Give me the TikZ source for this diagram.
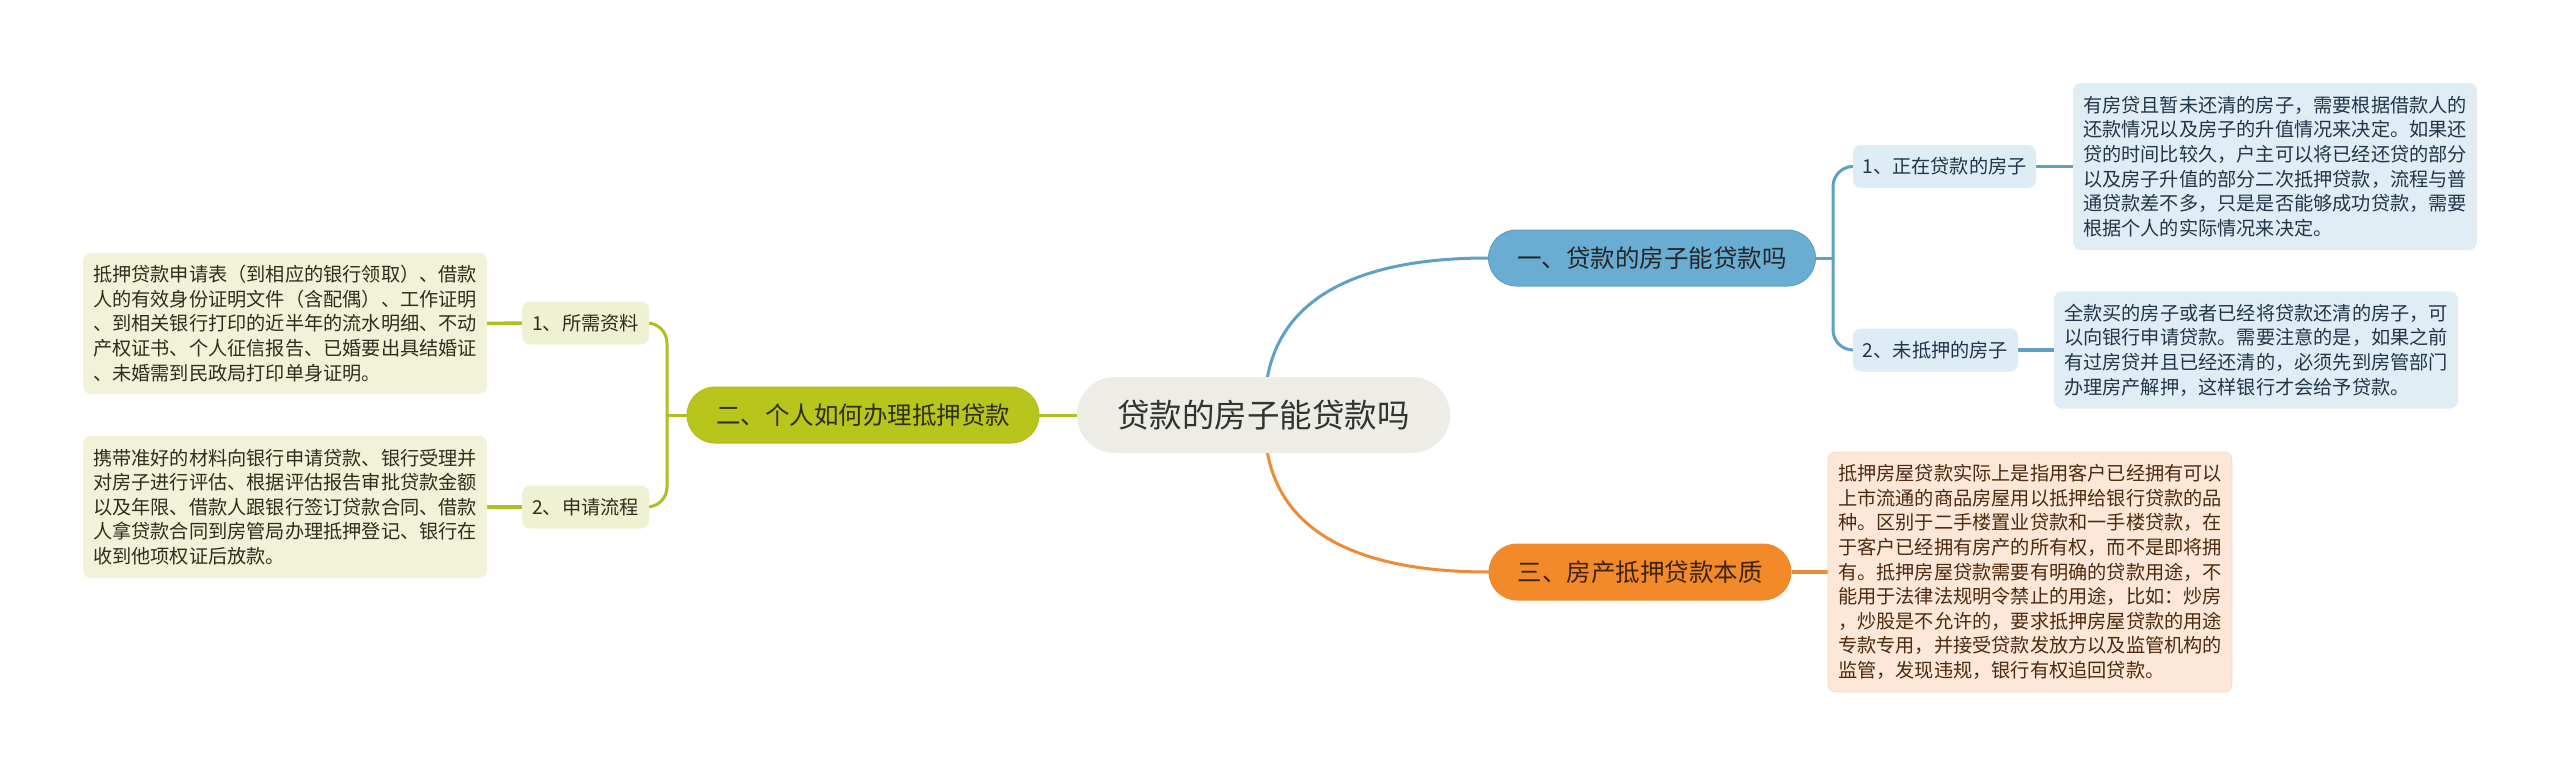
\documentclass[tikz,border=0pt]{standalone}
\usepackage{fontspec}
\setmainfont{Noto Sans CJK SC}
\usetikzlibrary{backgrounds}
\definecolor{cfill}{HTML}{EDEDE5}
\definecolor{ctext}{HTML}{333333}
\definecolor{bfill}{HTML}{6AADD2}
\definecolor{bline}{HTML}{5EA1C7}
\definecolor{bsub}{HTML}{DDECF5}
\definecolor{bleaf}{HTML}{E0EDF5}
\definecolor{btext}{HTML}{22364A}
\definecolor{ofill}{HTML}{B8C51A}
\definecolor{oline}{HTML}{B0BE22}
\definecolor{osub}{HTML}{EFF1D3}
\definecolor{oleaf}{HTML}{F1F2D7}
\definecolor{otext}{HTML}{2E2E1E}
\definecolor{rfill}{HTML}{F28A2A}
\definecolor{rline}{HTML}{EE8B37}
\definecolor{rleaf}{HTML}{FCE7D8}
\definecolor{rtext}{HTML}{4E2A0E}
\begin{document}
\begin{tikzpicture}[x=1pt,y=-1pt,
  box/.style={rectangle, inner sep=0pt, align=center},
  centerbox/.style={box, fill=cfill, rounded corners=38pt, minimum width=373pt, minimum height=76pt, font=\fontsize{32.5}{39}\selectfont, text=ctext},
  branchbox/.style={box, rounded corners=28pt, minimum height=56pt, font=\fontsize{24.5}{30}\selectfont},
  subbox/.style={box, rounded corners=8pt, minimum height=43pt, font=\fontsize{19.2}{24}\selectfont},
  leafbox/.style={rectangle, rounded corners=8pt, inner xsep=10pt, inner ysep=0pt, align=left, minimum width=404pt, font=\fontsize{19.2}{24.6}\selectfont},
  conn/.style={line width=3pt, line cap=round},
  leafconn/.style={line width=3.5pt}
]
\useasboundingbox (0,0) rectangle (2560,776);

% central
\node[centerbox] (c) at (1263.5,415) {贷款的房子能贷款吗};

% branch 1 (blue)
\node[branchbox, fill=bfill, draw=bline, line width=1pt, minimum width=327pt, text=black!85] (b1) at (1652,258) {一、贷款的房子能贷款吗};
\node[subbox, fill=bsub, minimum width=183pt, text=btext] (s1) at (1944.5,166.5) {1、正在贷款的房子};
\node[subbox, fill=bsub, minimum width=165pt, text=btext] (s2) at (1935.5,350) {2、未抵押的房子};
\node[leafbox, fill=bleaf, minimum height=167pt, text=btext] (l1) at (2275,166.5) {有房贷且暂未还清的房子，需要根据借款人的\\还款情况以及房子的升值情况来决定。如果还\\贷的时间比较久，户主可以将已经还贷的部分\\以及房子升值的部分二次抵押贷款，流程与普\\通贷款差不多，只是是否能够成功贷款，需要\\根据个人的实际情况来决定。};
\node[leafbox, fill=bleaf, minimum height=117pt, text=btext] (l2) at (2256,350) {全款买的房子或者已经将贷款还清的房子，可\\以向银行申请贷款。需要注意的是，如果之前\\有过房贷并且已经还清的，必须先到房管部门\\办理房产解押，这样银行才会给予贷款。};

% branch 2 (olive)
\node[branchbox, fill=ofill, draw=oline, line width=1pt, minimum width=352pt, text=otext] (b2) at (863,415) {二、个人如何办理抵押贷款};
\node[subbox, fill=osub, minimum width=127pt, text=otext] (t1) at (585.5,323) {1、所需资料};
\node[subbox, fill=osub, minimum width=127pt, text=otext] (t2) at (585.5,507) {2、申请流程};
\node[leafbox, fill=oleaf, minimum height=141pt, text=otext] (m1) at (285,323.5) {抵押贷款申请表（到相应的银行领取）、借款\\人的有效身份证明文件（含配偶）、工作证明\\、到相关银行打印的近半年的流水明细、不动\\产权证书、个人征信报告、已婚要出具结婚证\\、未婚需到民政局打印单身证明。};
\node[leafbox, fill=oleaf, minimum height=142pt, text=otext] (m2) at (285,507) {携带准好的材料向银行申请贷款、银行受理并\\对房子进行评估、根据评估报告审批贷款金额\\以及年限、借款人跟银行签订贷款合同、借款\\人拿贷款合同到房管局办理抵押登记、银行在\\收到他项权证后放款。};

% branch 3 (orange)
\node[branchbox, fill=rfill, draw=rline, line width=1pt, minimum width=302pt, text=rtext!80!black] (b3) at (1640,572) {三、房产抵押贷款本质};
\node[leafbox, fill=rleaf, draw=rleaf!85!rline, line width=0.8pt, minimum height=240pt, text=rtext] (r1) at (2030,572) {抵押房屋贷款实际上是指用客户已经拥有可以\\上市流通的商品房屋用以抵押给银行贷款的品\\种。区别于二手楼置业贷款和一手楼贷款，在\\于客户已经拥有房产的所有权，而不是即将拥\\有。抵押房屋贷款需要有明确的贷款用途，不\\能用于法律法规明令禁止的用途，比如：炒房\\，炒股是不允许的，要求抵押房屋贷款的用途\\专款专用，并接受贷款发放方以及监管机构的\\监管，发现违规，银行有权追回贷款。};

\coordinate (bx) at (1833,258);
\coordinate (ox) at (667,415);

\begin{scope}[on background layer]
\fill[white] (0,0) rectangle (2560,776);
% center connectors
\draw[conn, bline] ([xshift=4pt]c.north) .. controls +(16,-85) and +(-120,0) .. (b1.west);
\draw[conn, rline] ([xshift=4pt]c.south) .. controls +(16,85) and +(-120,0) .. (b3.west);
\draw[conn, oline] (c.west) -- (b2.east);
% blue bracket
\draw[conn, bline] (b1.east) -- (bx);
\draw[conn, bline, rounded corners=20pt] (s1.west) -| (bx) |- (s2.west);
\draw[leafconn, bline] (s1.east) -- (l1.west);
\draw[leafconn, bline] (s2.east) -- (l2.west);
% olive bracket
\draw[conn, oline] (b2.west) -- (ox);
\draw[conn, oline, rounded corners=20pt] (t1.east) -| (ox) |- (t2.east);
\draw[leafconn, oline] (t1.west) -- (m1.east);
\draw[leafconn, oline] (t2.west) -- (m2.east);
% orange
\draw[leafconn, rline] (b3.east) -- (r1.west);
\end{scope}
\end{tikzpicture}
\end{document}
